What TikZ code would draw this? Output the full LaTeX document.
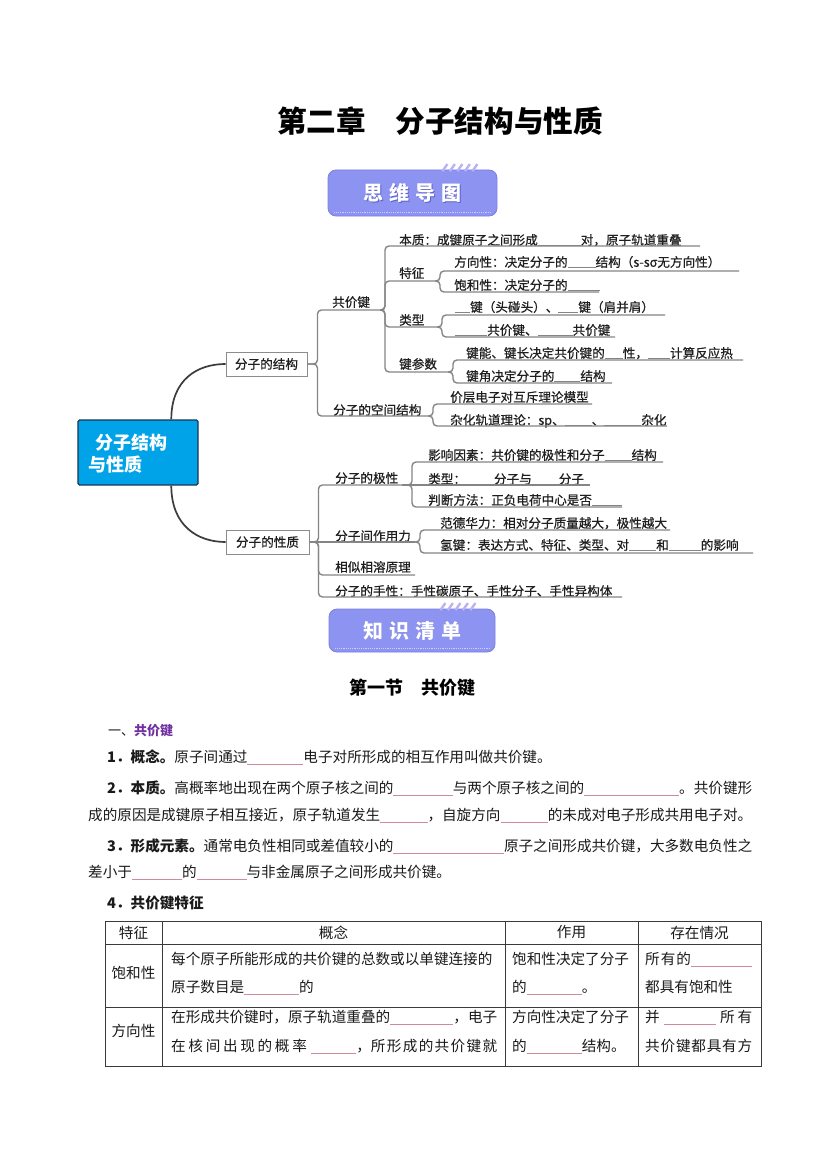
\documentclass[tikz,border=0pt]{standalone}
\usepackage{fontspec}
\setmainfont{Noto Sans CJK SC}
\newfontfamily\mmfam[FakeBold=0.6]{Noto Sans CJK SC}
\usetikzlibrary{calc}
\definecolor{bdc}{HTML}{8C93F1}
\definecolor{bdd}{HTML}{7A80E0}
\definecolor{bdsh}{HTML}{5E63C8}
\definecolor{stripec}{HTML}{B9B3F3}
\definecolor{mlc}{HTML}{858585}
\definecolor{rootc}{HTML}{3C3C3C}
\definecolor{rootfill}{HTML}{00A2E8}
\definecolor{rootdraw}{HTML}{1C3550}
\definecolor{boxd}{HTML}{8C8C8C}
\definecolor{blk}{HTML}{D08A98}
\definecolor{purp}{HTML}{7030A0}
\definecolor{mmt}{HTML}{1F1F1F}
\definecolor{bodyt}{HTML}{1A1A1A}
\definecolor{tabl}{HTML}{3A3A3A}
\newcommand\mbl[1]{{\color{mlc}\rule[-1.2pt]{#1pt}{0.8pt}}}
\newcommand\bk[1]{{\color{blk}\leaders\hrule height -1.8pt depth 2.5pt\hskip #1pt}}
\newcommand\bkf[1]{{\color{blk}\leaders\hrule height -1.8pt depth 2.5pt\hskip 0pt plus #1fill}}
\newcommand\gp[1]{\hskip 0pt plus #1fill}
\newcommand\mmf{\mmfam\fontsize{12.6}{15}\selectfont}
\newcommand\bdf{\fontsize{14.6}{18}\selectfont}
\newcommand\topic[6]{%
  \node[mm] (#1) at (#2,#3+4.8) {#6};
  \coordinate (#1-e) at (#5,#4);}
\begin{document}
\begin{tikzpicture}[x=1pt,y=-1pt,
  mm/.style={anchor=base west, inner sep=0, font=\mmf, text=mmt},
  ml/.style={draw=mlc, line width=1.4pt, rounded corners=4pt},
  rootcurve/.style={draw=rootc, line width=1.7pt},
  sbox/.style={draw=boxd, fill=white, line width=0.9pt, minimum width=81pt, minimum height=24pt, inner sep=0, font=\mmf, text=mmt},
  rootbox/.style={draw=rootdraw, fill=rootfill, line width=1.4pt, rounded corners=1.5pt, minimum width=120pt, minimum height=65pt, inner sep=0},
  roottext/.style={anchor=west, inner sep=0, text=white, font=\bfseries\fontsize{18}{20}\selectfont},
  badge/.style={fill=bdc, draw=bdd, line width=0.8pt, rounded corners=8pt, inner sep=0},
  bdtext/.style={inner sep=0, text=white, font=\bfseries\fontsize{20}{22}\selectfont},
  stripe/.style={draw=stripec, line width=2.4pt},
  bddot/.style={draw=white!55!bdc, line width=1.3pt, dash pattern=on 1.2pt off 1pt},
  body/.style={anchor=base west, inner sep=0, font=\bdf, text=bodyt},
  hdr/.style={inner sep=0, font=\bdf, text=bodyt},
  tline/.style={draw=tabl, line width=0.8pt}]
\useasboundingbox (0,0) rectangle (827,1169);
\fill[white] (0,0) rectangle (827,1169);

% title
\node[inner sep=0, font=\bfseries\fontsize{29.6}{34}\selectfont] (title) at (440,121) {第二章\hspace{29.6pt}分子结构与性质};

% badge 1
\node[badge, minimum width=169pt, minimum height=46pt] (bd1) at (412.5,193) {};
\foreach \i in {0,...,4} \draw[stripe] ($(bd1.north east)+(-55+\i*7.5,1.5)$) -- ++(5,-7);
\draw[bddot] ($(bd1.south west)+(6,-4)$) -- ($(bd1.south east)+(-6,-4)$);
\node[bdtext, text=bdsh] at ($(bd1.center)+(0.9,0.9)$) {思\hspace{6pt}维\hspace{6pt}导\hspace{6pt}图};
\node[bdtext] (bd1t) at (bd1.center) {思\hspace{6pt}维\hspace{6pt}导\hspace{6pt}图};

% root and level 1
\node[rootbox] (root) at (138,452.5) {};
\node[roottext] (rt1) at (95,443) {分子结构};
\node[roottext] (rt2) at (88,465) {与性质};
\node[sbox] (s1) at (266.5,364) {分子的结构};
\node[sbox, minimum width=83pt] (s2) at (267.5,542) {分子的性质};
\draw[rootcurve] ($(root.north west)+(94,0)$) .. controls +(0,-40) and +(-28,0) .. (s1.west);
\draw[rootcurve] ($(root.south west)+(94,0)$) .. controls +(0,40) and +(-28,0) .. (s2.west);

% topics: name, tx, center, underline y, end x, text
\topic{A}{332}{302}{310}{380}{共价键}
\topic{B}{333}{410}{416}{428}{分子的空间结构}
\topic{A1}{399}{240}{246}{700}{本质：成键原子之间形成\mbl{43}对，原子轨道重叠}
\topic{A2}{399}{273}{281}{435}{特征}
\topic{A3}{399}{320}{327}{437}{类型}
\topic{A4}{399}{364}{372}{448}{键参数}
\topic{A21}{454}{262}{271}{739}{方向性：决定分子的\mbl{28}结构（s-sσ无方向性）}
\topic{A22}{454}{285}{292}{599}{饱和性：决定分子的\mbl{32}}
\topic{A31}{455}{307}{315}{665}{\mbl{15}键（头碰头）、\mbl{20}键（肩并肩）}
\topic{A32}{455}{330}{337}{615}{\mbl{32}共价键、\mbl{35}共价键}
\topic{A41}{466}{353}{360}{743}{键能、键长决定共价键的\mbl{18}性，\mbl{22}计算反应热}
\topic{A42}{466}{376}{383}{612}{键角决定分子的\mbl{26}结构}
\topic{B1}{450}{397}{404}{592}{价层电子对互斥理论模型}
\topic{B2}{450}{420}{426}{667}{杂化轨道理论：sp、\mbl{27}、\mbl{37}杂化}
\topic{C}{335}{478}{485}{402}{分子的极性}
\topic{D}{335}{536}{542}{415}{分子间作用力}
\topic{E}{335}{567}{575}{415}{相似相溶原理}
\topic{F}{335}{591}{597}{622}{分子的手性：手性碳原子、手性分子、手性异构体}
\topic{C1}{428}{455}{462}{663}{影响因素：共价键的极性和分子\mbl{27}结构}
\topic{C2}{428}{479}{485}{590}{类型：\mbl{28}分子与\mbl{27}分子}
\topic{C3}{428}{500}{507}{622}{判断方法：正负电荷中心是否\mbl{30}}
\topic{D1}{440}{523}{530}{670}{范德华力：相对分子质量越大，极性越大}
\topic{D2}{440}{545}{553}{753}{氢键：表达方式、特征、类型、对\mbl{27}和\mbl{32}的影响}

% connectors
\draw[ml] (s1.east) -- ++(10,0) |- (A-e);
\draw[ml] (s1.east) -- ++(10,0) |- (B-e);
\foreach \c in {A1,A2,A3,A4} \draw[ml] (A-e) -- ++(5,0) |- (\c-e);
\foreach \c in {A21,A22} \draw[ml] (A2-e) -- ++(5,0) |- (\c-e);
\foreach \c in {A31,A32} \draw[ml] (A3-e) -- ++(5,0) |- (\c-e);
\foreach \c in {A41,A42} \draw[ml] (A4-e) -- ++(5,0) |- (\c-e);
\foreach \c in {B1,B2} \draw[ml] (B-e) -- ++(5,0) |- (\c-e);
\draw[ml] (s2.east) -- (D-e);
\foreach \c in {C,E,F} \draw[ml] (s2.east) -- ++(9,0) |- (\c-e);
\draw[ml] (C-e) -- (C2-e);
\foreach \c in {C1,C3} \draw[ml] (C-e) -- ++(10,0) |- (\c-e);
\foreach \c in {D1,D2} \draw[ml] (D-e) -- ++(5,0) |- (\c-e);

% badge 2
\node[badge, minimum width=166pt, minimum height=43pt] (bd2) at (412,630.5) {};
\foreach \i in {0,...,4} \draw[stripe] ($(bd2.north east)+(-55+\i*7.5,1.5)$) -- ++(5,-7);
\draw[bddot] ($(bd2.south west)+(6,-4)$) -- ($(bd2.south east)+(-6,-4)$);
\node[bdtext, text=bdsh] at ($(bd2.center)+(0.9,0.9)$) {知\hspace{6pt}识\hspace{6pt}清\hspace{6pt}单};
\node[bdtext] (bd2t) at (bd2.center) {知\hspace{6pt}识\hspace{6pt}清\hspace{6pt}单};

\node[inner sep=0, font=\bfseries\fontsize{18}{20}\selectfont] (sec) at (412,688) {第一节\hspace{18pt}共价键};

% body
\node[body, font=\fontsize{13}{15}\selectfont] (h1) at (108,735) {一、{\color{purp}\bfseries 共价键}};
\node[body] (l1) at (107,762.5) {{\bfseries 1．概念。}原子间通过\bk{56}电子对所形成的相互作用叫做共价键。};
\node[body] (l2) at (107,793.5) {\hbox to 645pt{{\bfseries 2．本质。}高概率地出现在两个原子核之间的\bkf{1}与两个原子核之间的\bkf{1.6}。共价键形}};
\node[body] (l2b) at (88,820.5) {\hbox to 664pt{成的原因是成键原子相互接近，原子轨道发生\bkf{1}，自旋方向\bkf{1}的未成对电子形成共用电子对。}};
\node[body] (l3) at (107,851.5) {\hbox to 645pt{{\bfseries 3．形成元素。}通常电负性相同或差值较小的\bkf{1}原子之间形成共价键，大多数电负性之}};
\node[body] (l3b) at (88,877.5) {差小于\bk{50}的\bk{50}与非金属原子之间形成共价键。};
\node[body] (l4) at (107,908.5) {\bfseries 4．共价键特征};

% table
\draw[tline] (105,921) rectangle (761,1066);
\draw[tline] (105,944) -- (761,944);
\draw[tline] (105,1007) -- (761,1007);
\foreach \x in {162,505,638} \draw[tline] (\x,921) -- (\x,1066);
\node[hdr] (th1) at (133.5,932.5) {特征};
\node[hdr] (th2) at (333.5,932.5) {概念};
\node[hdr] (th3) at (571.5,932.5) {作用};
\node[hdr] (th4) at (699.5,932.5) {存在情况};
\node[hdr] (r1) at (133.5,973) {饱和性};
\node[hdr] (r2) at (133.5,1031) {方向性};
\node[body] at (171,964.5) {每个原子所能形成的共价键的总数或以单键连接的};
\node[body] at (171,992.5) {原子数目是\bk{55}的};
\node[body] at (512,964.5) {饱和性决定了分子};
\node[body] at (512,992.5) {的\bk{55}。};
\node[body] at (645,964.5) {\hbox to 107pt{所\hskip1pt 有\hskip1pt 的\bkf{1}}};
\node[body] at (645,992.5) {都具有饱和性};
\node[body] at (171,1022.5) {\hbox to 326pt{在形成共价键时，原子轨道重叠的\bkf{1}，电子}};
\node[body] at (171,1051.5) {\hbox to 326pt{在\gp{.06}核\gp{.06}间\gp{.06}出\gp{.06}现\gp{.06}的\gp{.06}概\gp{.06}率\gp{.1}\bkf{1}，所\gp{.03}形\gp{.03}成\gp{.03}的\gp{.03}共\gp{.03}价\gp{.03}键\gp{.03}就}};
\node[body] at (512,1022.5) {方向性决定了分子};
\node[body] at (512,1051.5) {的\bk{55}结构。};
\node[body] at (645,1022.5) {\hbox to 107pt{并\hskip4pt\bkf{1}\hskip4pt 所\hskip3pt 有}};
\node[body] at (645,1051.5) {\hbox to 107pt{共\gp{1}价\gp{1}键\gp{1}都\gp{1}具\gp{1}有\gp{1}方}};
\end{tikzpicture}
\end{document}
